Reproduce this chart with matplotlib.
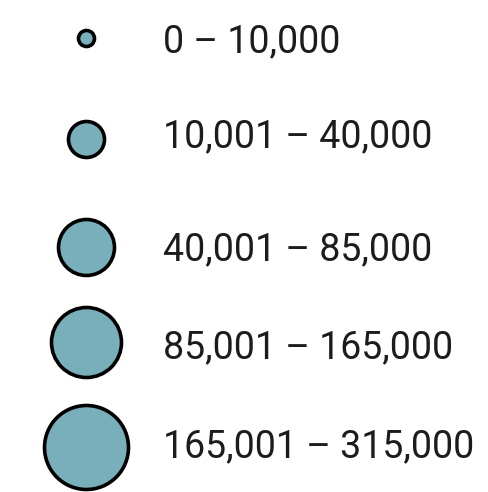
import matplotlib.pyplot as plt

# legend classes (population ranges) and their symbol sizes
labels = ["0 \u2013 10,000", "10,001 \u2013 40,000", "40,001 \u2013 85,000",
          "85,001 \u2013 165,000", "165,001 \u2013 315,000"]
upper_bounds = [10000, 40000, 85000, 165000, 315000]
circle_y = [38, 139, 247, 342, 447]       # circle centres in pixel space
text_y = [38, 133, 246, 344, 443]         # label centres in pixel space
radius_px = [8, 18, 28, 35, 42]           # circle radius in pixels

fill_color = "#79AFBA"
dpi = 100
W, H = 489, 492

fig = plt.figure(figsize=(W / dpi, H / dpi), dpi=dpi)
ax = fig.add_axes([0, 0, 1, 1])
ax.set_xlim(0, W)
ax.set_ylim(H, 0)
ax.axis("off")

for cy, ty, r, lab in zip(circle_y, text_y, radius_px, labels):
    d_pt = 2 * r * 72 / dpi
    ax.scatter([86], [cy], s=d_pt ** 2, color=fill_color, edgecolor="black",
               linewidth=2.6, zorder=3)
    # baseline sits half a cap height below the label centre
    ax.text(163, ty + 14, lab, fontsize=27, family="Roboto", color="#1c1c1c",
            ha="left", va="baseline")

fig.savefig("out.png", dpi=dpi)
